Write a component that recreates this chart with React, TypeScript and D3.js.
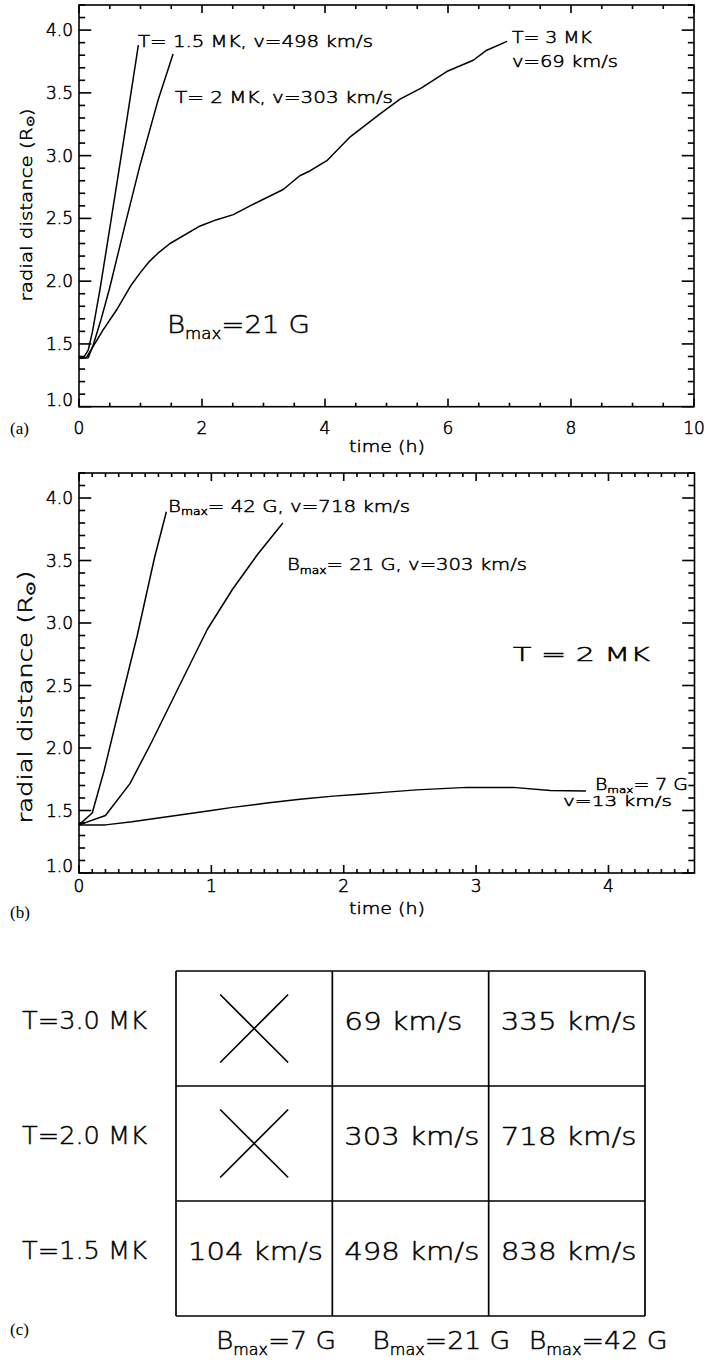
import React from 'react';
import * as d3 from 'd3';

const W = 706, H = 1362;
const FONT = "'DejaVu Sans', 'Liberation Sans', sans-serif";
const SERIF = "'Liberation Serif', 'DejaVu Serif', serif";

// ---------- Panel (a): Bmax = 21 G, different temperatures ----------
const a15Time = [0, 0.08, 0.15, 0.22, 0.34, 0.5, 0.7, 0.88, 0.965];
const a15Rad = [1.385, 1.395, 1.45, 1.6, 1.93, 2.42, 3.04, 3.61, 3.88];
const a2Time = [0, 0.15, 0.23, 0.35, 0.49, 0.75, 0.99, 1.29, 1.53];
const a2Rad = [1.385, 1.39, 1.49, 1.68, 1.93, 2.45, 2.92, 3.45, 3.81];
const a3Time = [0, 0.12, 0.23, 0.39, 0.61, 0.85, 1.0, 1.15, 1.3, 1.48, 1.97, 2.24, 2.51, 2.78, 3.32, 3.59, 3.76, 4.03, 4.41, 4.89, 5.22, 5.57, 5.98, 6.41, 6.63, 6.96];
const a3Rad = [1.385, 1.39, 1.48, 1.61, 1.77, 1.97, 2.07, 2.16, 2.23, 2.3, 2.44, 2.49, 2.53, 2.6, 2.73, 2.84, 2.88, 2.96, 3.15, 3.33, 3.45, 3.54, 3.67, 3.76, 3.84, 3.91];

// ---------- Panel (b): T = 2 MK, different Bmax ----------
const b42Time = [0, 0.1, 0.19, 0.3, 0.44, 0.57, 0.66];
const b42Rad = [1.385, 1.48, 1.82, 2.3, 2.9, 3.52, 3.89];
const b21Time = [0, 0.2, 0.385, 0.55, 0.75, 0.97, 1.16, 1.35, 1.54];
const b21Rad = [1.385, 1.46, 1.715, 2.05, 2.48, 2.95, 3.27, 3.55, 3.8];
const b7Time = [0, 0.2, 0.4, 0.6, 0.8, 1.0, 1.16, 1.42, 1.67, 1.92, 2.12, 2.3, 2.55, 2.93, 3.28, 3.56, 3.83];
const b7Rad = [1.385, 1.385, 1.41, 1.44, 1.47, 1.5, 1.525, 1.56, 1.59, 1.615, 1.63, 1.645, 1.665, 1.685, 1.685, 1.66, 1.656];

// ---------- Axes ----------
const aXTicks = [0, 2, 4, 6, 8, 10];
const bXTicks = [0, 1, 2, 3, 4];
const yTicks = [1.0, 1.5, 2.0, 2.5, 3.0, 3.5, 4.0];

// ---------- Table (c) ----------
const rowLabels = ['T=3.0 MK', 'T=2.0 MK', 'T=1.5 MK'];
const colLabels = ['=7 G', '=21 G', '=42 G'];
const cellValues: (string | null)[][] = [
  [null, '69 km/s', '335 km/s'],
  [null, '303 km/s', '718 km/s'],
  ['104 km/s', '498 km/s', '838 km/s'],
];
const cellTextLen: (number | null)[][] = [
  [null, 118, 136],
  [null, 135, 136],
  [135, 135, 136],
];
const colLabelLen = [120, 138, 139];

const zip = (t: number[], r: number[]) => t.map((v, i) => [v, r[i]] as [number, number]);

function steps(a: number, b: number, step: number): number[] {
  const n = Math.round((b - a) / step);
  const out: number[] = [];
  for (let i = 0; i <= n; i++) out.push(+(a + i * step).toFixed(6));
  return out;
}

type TickRect = { k: string; x: number; y: number; w: number; h: number };

function tickRects(x: any, y: any, xMajor: number[], xMinorStep: number, yMinorStep: number): TickRect[] {
  const r = x.range();
  const x0 = r[0], x1 = r[1];
  const ry = y.range();
  const y0 = ry[0], y1 = ry[1];
  const yTickLen = 0.02 * (x1 - x0);
  const xTickLen = 0.02 * (y0 - y1);
  const xd = x.domain();
  const yd = y.domain();
  const xs = steps(xd[0], Math.floor(xd[1] / xMinorStep + 1e-6) * xMinorStep, xMinorStep);
  const ys = steps(yd[0], Math.floor(yd[1] / yMinorStep + 1e-6) * yMinorStep, yMinorStep);
  const T = 1.6;
  const out: TickRect[] = [];
  xs.forEach(v => {
    const L = xMajor.some(m => Math.abs(m - v) < 1e-6) ? xTickLen : xTickLen / 2;
    const px = x(v);
    out.push({ k: 'xb' + v, x: px - T / 2, y: y0 - L, w: T, h: L });
    out.push({ k: 'xt' + v, x: px - T / 2, y: y1, w: T, h: L });
  });
  ys.forEach(v => {
    const L = yTicks.some(m => Math.abs(m - v) < 1e-6) ? yTickLen : yTickLen / 2;
    const py = y(v);
    out.push({ k: 'yl' + v, x: x0, y: py - T / 2, w: L, h: T });
    out.push({ k: 'yr' + v, x: x1 - L, y: py - T / 2, w: L, h: T });
  });
  return out;
}

function Axes({ x, y, xMajor, xMinorStep, yMinorStep, xLabelY }: any) {
  const r = x.range();
  const ry = y.range();
  const fmtY = d3.format('.1f');
  const ticks = tickRects(x, y, xMajor, xMinorStep, yMinorStep);
  return (
    <g>
      <rect x={r[0]} y={ry[1]} width={r[1] - r[0]} height={ry[0] - ry[1]} fill="none" stroke="#000" strokeWidth={1.6} />
      <g fill="#000" stroke="none">
        {ticks.map(t => (
          <rect key={t.k} x={t.x} y={t.y} width={t.w} height={t.h} />
        ))}
      </g>
      <g fill="#000" fontFamily={FONT} fontWeight={200} fontSize={17} stroke="#000" strokeWidth={0.5}>
        {yTicks.map((v, i) => (
          <text key={'yl' + v} x={r[0] - 6} y={y(v) - (i === 0 ? 7 : 0)} textAnchor="end" dominantBaseline="central">
            {fmtY(v)}
          </text>
        ))}
        {xMajor.map((v: number) => (
          <text key={'xl' + v} x={x(v)} y={xLabelY} textAnchor="middle" dominantBaseline="central">
            {String(v)}
          </text>
        ))}
      </g>
    </g>
  );
}

function Sub({ base, sub, rest, x, y, size, subSize, len }: any) {
  return (
    <text x={x} y={y} fontSize={size} textLength={len} lengthAdjust="spacingAndGlyphs">
      {base}
      <tspan fontSize={subSize} dy={size * 0.22}>{sub}</tspan>
      <tspan dy={-size * 0.22}>{rest}</tspan>
    </text>
  );
}

export default function App() {
  const xa = d3.scaleLinear().domain([0, 10]).range([79, 694]);
  const ya = d3.scaleLinear().domain([1.0, 4.2]).range([406.7, 5]);
  const xb = d3.scaleLinear().domain([0, 4.65]).range([79, 694.5]);
  const yb = d3.scaleLinear().domain([1.0, 4.2]).range([873, 473]);

  const la = d3.line<[number, number]>().x(d => xa(d[0])).y(d => ya(d[1]));
  const lb = d3.line<[number, number]>().x(d => xb(d[0])).y(d => yb(d[1]));

  const colScale = d3.scaleBand<number>().domain([0, 1, 2]).range([176, 645]);
  const rowScale = d3.scaleBand<number>().domain([0, 1, 2]).range([971, 1316]);
  const cw = colScale.bandwidth();
  const rh = rowScale.bandwidth();

  const smallTxt = { fontFamily: FONT, fontWeight: 200, stroke: '#000', strokeWidth: 0.5 } as any;
  const bigTxt = { fontFamily: FONT, fontWeight: 200, stroke: '#000', strokeWidth: 0.45 } as any;

  return (
    <svg width={W} height={H} style={{ position: 'absolute', left: 0, top: 0, background: '#fff' }}>
      <rect x={0} y={0} width={W} height={H} fill="#fff" />

      {/* ---------- Panel (a) ---------- */}
      <Axes x={xa} y={ya} xMajor={aXTicks} xMinorStep={0.5} yMinorStep={0.1} xLabelY={428} />
      <g fill="none" stroke="#000" strokeWidth={1.5} strokeLinejoin="round">
        <path d={la(zip(a15Time, a15Rad)) || ''} />
        <path d={la(zip(a2Time, a2Rad)) || ''} />
        <path d={la(zip(a3Time, a3Rad)) || ''} />
      </g>
      <g {...smallTxt} fill="#000">
        <text x={138} y={41} fontSize={16} dominantBaseline="central" textLength={235} lengthAdjust="spacingAndGlyphs">T= 1.5 MK, v=498 km/s</text>
        <text x={175} y={97} fontSize={16} dominantBaseline="central" textLength={218} lengthAdjust="spacingAndGlyphs">T= 2 MK, v=303 km/s</text>
        <text x={512} y={37.5} fontSize={16} dominantBaseline="central" textLength={80} lengthAdjust="spacingAndGlyphs">T= 3 MK</text>
        <text x={512} y={61.5} fontSize={16} dominantBaseline="central" textLength={106} lengthAdjust="spacingAndGlyphs">v=69 km/s</text>
        <text x={387} y={446} fontSize={16} textAnchor="middle" dominantBaseline="central" textLength={76} lengthAdjust="spacingAndGlyphs">time (h)</text>
        <text transform="translate(26,205) rotate(-90)" fontSize={16} textAnchor="middle" dominantBaseline="central" textLength={193} lengthAdjust="spacingAndGlyphs">
          radial distance (R<tspan fontSize={11} dy={4}>⊙</tspan><tspan dy={-4}>)</tspan>
        </text>
      </g>
      <g {...bigTxt} fill="#000">
        <Sub base="B" sub="max" rest="=21  G" x={167} y={333} size={25} subSize={15} len={143} />
      </g>
      <text x={10} y={428} fontFamily={SERIF} fontSize={17} dominantBaseline="central">(a)</text>

      {/* ---------- Panel (b) ---------- */}
      <Axes x={xb} y={yb} xMajor={bXTicks} xMinorStep={0.1} yMinorStep={0.1} xLabelY={886} />
      <g fill="none" stroke="#000" strokeWidth={1.5} strokeLinejoin="round">
        <path d={lb(zip(b42Time, b42Rad)) || ''} />
        <path d={lb(zip(b21Time, b21Rad)) || ''} />
        <path d={lb(zip(b7Time, b7Rad)) || ''} />
      </g>
      <g {...smallTxt} fill="#000">
        <Sub base="B" sub="max" rest="= 42 G, v=718 km/s" x={168} y={511.5} size={16} subSize={10} len={242} />
        <Sub base="B" sub="max" rest="= 21 G, v=303 km/s" x={287} y={570} size={16} subSize={10} len={240} />
        <text x={513} y={653.7} fontSize={19} dominantBaseline="central" textLength={137} lengthAdjust="spacingAndGlyphs">T = 2 MK</text>
        <Sub base="B" sub="max" rest="= 7 G" x={595} y={789.5} size={15} subSize={9.5} len={93} />
        <text x={563} y={800.5} fontSize={14.5} dominantBaseline="central" textLength={109} lengthAdjust="spacingAndGlyphs">v=13 km/s</text>
        <text x={387} y={908} fontSize={16} textAnchor="middle" dominantBaseline="central" textLength={76} lengthAdjust="spacingAndGlyphs">time (h)</text>
        <text transform="translate(25,697) rotate(-90)" fontSize={19} textAnchor="middle" dominantBaseline="central" textLength={253} lengthAdjust="spacingAndGlyphs">
          radial distance (R<tspan fontSize={13} dy={5}>⊙</tspan><tspan dy={-5}>)</tspan>
        </text>
      </g>
      <text x={10} y={912} fontFamily={SERIF} fontSize={17} dominantBaseline="central">(b)</text>

      {/* ---------- Table (c) ---------- */}
      <g stroke="#000" strokeWidth={1.7} fill="none">
        {[0, 1, 2, 3].map(i => {
          const xv = i < 3 ? (colScale(i) as number) : (colScale(2) as number) + cw;
          return <line key={'v' + i} x1={xv} x2={xv} y1={rowScale(0)} y2={(rowScale(2) as number) + rh} />;
        })}
        {[0, 1, 2, 3].map(i => {
          const yv = i < 3 ? (rowScale(i) as number) : (rowScale(2) as number) + rh;
          return <line key={'h' + i} x1={colScale(0)} x2={(colScale(2) as number) + cw} y1={yv} y2={yv} />;
        })}
        {cellValues.map((row, r) =>
          row.map((v, c) => {
            if (v !== null) return null;
            const cx = (colScale(c) as number) + cw / 2;
            const cy = (rowScale(r) as number) + rh / 2;
            return (
              <g key={'x' + r + c}>
                <line x1={cx - 34} x2={cx + 34} y1={cy - 34} y2={cy + 34} />
                <line x1={cx - 34} x2={cx + 34} y1={cy + 34} y2={cy - 34} />
              </g>
            );
          })
        )}
      </g>
      <g {...bigTxt} fill="#000" fontSize={25}>
        {rowLabels.map((l, r) => (
          <text key={l} x={22} y={(rowScale(r) as number) + rh / 2 - 8} dominantBaseline="central" textLength={125} lengthAdjust="spacingAndGlyphs">{l}</text>
        ))}
        {cellValues.map((row, r) =>
          row.map((v, c) =>
            v === null ? null : (
              <text key={'t' + r + c} x={(colScale(c) as number) + 12} y={(rowScale(r) as number) + rh / 2 - 7} dominantBaseline="central" textLength={cellTextLen[r][c] as number} lengthAdjust="spacingAndGlyphs">{v}</text>
            )
          )
        )}
        {colLabels.map((l, c) => (
          <Sub key={l} base="B" sub="max" rest={l} x={(colScale(c) as number) + 40} y={1349} size={25} subSize={15} len={colLabelLen[c]} />
        ))}
      </g>
      <text x={10} y={1329} fontFamily={SERIF} fontSize={17} dominantBaseline="central">(c)</text>
    </svg>
  );
}
